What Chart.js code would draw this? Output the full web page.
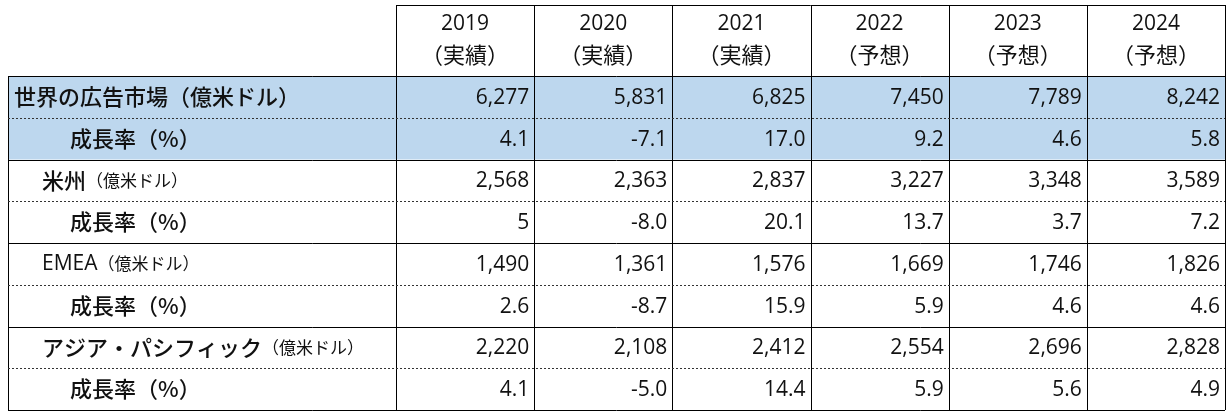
<!DOCTYPE html>
<html>
<head>
<meta charset="utf-8">
<script src="https://cdn.jsdelivr.net/npm/chart.js@4"></script>
<style>
  body { margin: 0; background: #fff; }
  #wrap { width: 1230px; height: 417px; }
</style>
</head>
<body>
<div id="wrap"><canvas id="tableChart"></canvas></div>
<script>
const years = ['2019', '2020', '2021', '2022', '2023', '2024'];
const yearNotes = ['（実績）', '（実績）', '（実績）', '（予想）', '（予想）', '（予想）'];
const rowKeys = ['world', 'worldG', 'am', 'amG', 'emea', 'emeaG', 'ap', 'apG'];
const rowLabels = ['世界の広告市場', '成長率（%）', '米州', '成長率（%）', 'EMEA', '成長率（%）', 'アジア・パシフィック', '成長率（%）'];
const rowUnits = ['（億米ドル）', '', '（億米ドル）', '', '（億米ドル）', '', '（億米ドル）', ''];
const world = ['6,277', '5,831', '6,825', '7,450', '7,789', '8,242'];
const worldGrowth = ['4.1', '-7.1', '17.0', '9.2', '4.6', '5.8'];
const americas = ['2,568', '2,363', '2,837', '3,227', '3,348', '3,589'];
const americasGrowth = ['5', '-8.0', '20.1', '13.7', '3.7', '7.2'];
const emea = ['1,490', '1,361', '1,576', '1,669', '1,746', '1,826'];
const emeaGrowth = ['2.6', '-8.7', '15.9', '5.9', '4.6', '4.6'];
const asiaPac = ['2,220', '2,108', '2,412', '2,554', '2,696', '2,828'];
const asiaPacGrowth = ['4.1', '-5.0', '14.4', '5.9', '5.6', '4.9'];
const tableRows = [world, worldGrowth, americas, americasGrowth, emea, emeaGrowth, asiaPac, asiaPacGrowth];

const JP = '"Noto Sans CJK JP", sans-serif';
const NUM = '"Open Sans", "Noto Sans", sans-serif';

const tablePlugin = {
    id: 'tablePlugin',
    afterDraw(chart) {
        const c = chart.ctx;
        const xs = chart.scales.x, ys = chart.scales.y;
        const cw = xs.getPixelForValue(1) - xs.getPixelForValue(0);
        const rh = ys.getPixelForValue(1) - ys.getPixelForValue(0);
        const left = 8;
        const x0 = xs.getPixelForValue(0) - cw / 2;
        const x1 = xs.getPixelForValue(years.length - 1) + cw / 2;
        const y0 = ys.getPixelForValue(0) - rh / 2;
        const y1 = ys.getPixelForValue(rowKeys.length - 1) + rh / 2;
        const top = 5;

        c.save();
        // blue band for world rows
        c.fillStyle = '#BDD7EE';
        c.fillRect(left, y0, x1 - left, rh * 2);

        // header
        c.fillStyle = '#111';
        c.textAlign = 'center';
        c.textBaseline = 'middle';
        years.forEach((yr, j) => {
            const cx = xs.getPixelForValue(j);
            c.font = '21px ' + NUM;
            c.fillText(yr, cx, top + 19);
            c.font = '22px ' + JP;
            c.fillText(yearNotes[j], cx, top + 50);
        });

        // cells
        tableRows.forEach((vals, i) => {
            const cy = ys.getPixelForValue(i);
            const growth = i % 2 === 1;
            c.textAlign = 'right';
            c.font = '21px ' + NUM;
            c.fillStyle = '#111';
            vals.forEach((v, j) => {
                c.fillText(v, xs.getPixelForValue(j) + cw / 2 - 5, cy + 1);
            });
            // label column
            c.textAlign = 'left';
            const lx = growth ? 70 : (i === 0 ? 14 : 42);
            const bigFont = (rowLabels[i] === 'EMEA') ? '21px ' + NUM : '500 22px ' + JP;
            c.font = bigFont;
            c.fillText(rowLabels[i], lx, cy);
            if (rowUnits[i]) {
                const w = c.measureText(rowLabels[i]).width;
                c.font = (i === 0 ? '500 22px ' : '17px ') + JP;
                c.fillText(rowUnits[i], lx + w, cy);
            }
        });

        // grid lines
        c.strokeStyle = '#000';
        c.lineWidth = 1;
        c.beginPath();
        c.moveTo(x0, top + 0.5); c.lineTo(x1, top + 0.5);
        c.moveTo(left + 0.5, y0); c.lineTo(left + 0.5, y1);
        for (let j = 0; j <= years.length; j++) {
            const x = Math.round(x0 + j * cw) + 0.5;
            c.moveTo(x, top); c.lineTo(x, y1);
        }
        for (let i = 0; i <= rowKeys.length; i += 2) {
            const y = Math.round(y0 + i * rh) + 0.5;
            c.moveTo(left, y); c.lineTo(x1, y);
        }
        c.stroke();
        c.setLineDash([2, 2]);
        c.strokeStyle = '#333';
        c.beginPath();
        for (let i = 1; i < rowKeys.length; i += 2) {
            const y = Math.round(y0 + i * rh) + 0.5;
            c.moveTo(left, y); c.lineTo(x1, y);
        }
        c.stroke();
        c.restore();
    }
};

new Chart(document.getElementById('tableChart').getContext('2d'), {
    type: 'scatter',
    data: { datasets: [] },
    options: {
        responsive: true,
        maintainAspectRatio: false,
        animation: false,
        layout: { padding: { left: 396, right: 5, top: 76, bottom: 7 } },
        plugins: { legend: { display: false }, tooltip: { enabled: false } },
        scales: {
            x: { type: 'category', labels: years, offset: true, display: false },
            y: { type: 'category', labels: rowKeys, offset: true, display: false }
        }
    },
    plugins: [tablePlugin]
});
</script>
</body>
</html>
